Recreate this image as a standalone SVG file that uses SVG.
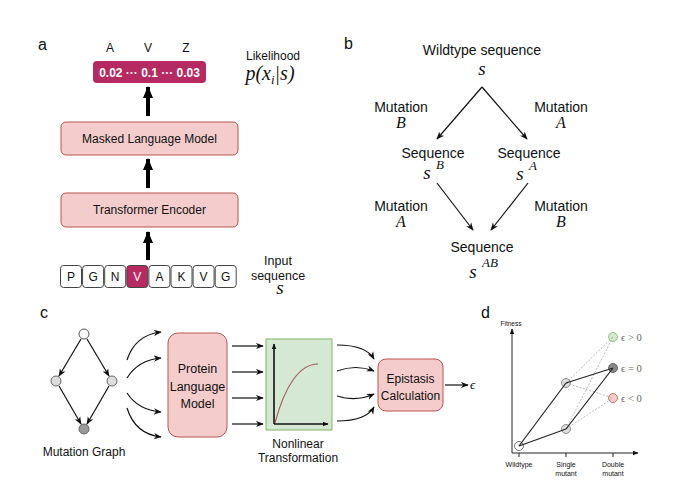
<svg xmlns="http://www.w3.org/2000/svg" width="680" height="485" viewBox="0 0 680 485">
<style>
text{font-family:"Liberation Sans",Arial,sans-serif;fill:#111}
.math{font-family:"Liberation Serif","Times New Roman",serif;font-style:italic}
.eps{font-family:"Liberation Serif","Times New Roman",serif;fill:#666}
.pink{fill:#f4cccc;stroke:#b85450;stroke-width:1}
.mag{fill:#b52a60}
.seq{fill:#fff;stroke:#444;stroke-width:1}
.thin{stroke:#111;stroke-width:1.2;fill:none}
.thick{stroke:#000;stroke-width:4;fill:none}
.dot{stroke:#aaa;stroke-width:0.8;stroke-dasharray:2 1.5;fill:none}
.solid{stroke:#222;stroke-width:1.2;fill:none}
.c{text-anchor:middle}
</style>
<defs>
<marker id="big" viewBox="0 0 12 10" refX="11" refY="5" markerWidth="12" markerHeight="10" markerUnits="userSpaceOnUse" orient="auto"><path d="M0,0 L12,5 L0,10 Z" fill="#000"/></marker>
<marker id="ah" viewBox="0 0 10 8" refX="9" refY="4" markerWidth="8" markerHeight="7" markerUnits="userSpaceOnUse" orient="auto"><path d="M0,0 L10,4 L0,8 L3,4 Z" fill="#111"/></marker>
<marker id="ahs" viewBox="0 0 10 8" refX="9" refY="4" markerWidth="6" markerHeight="5" markerUnits="userSpaceOnUse" orient="auto"><path d="M0,0 L10,4 L0,8 Z" fill="#111"/></marker>
</defs>

<!-- Panel a -->
<g id="panel-a">
<text x="38" y="50" font-size="16">a</text>
<text x="110" y="52" font-size="12" class="c">A</text>
<text x="148" y="52" font-size="12" class="c">V</text>
<text x="186" y="52" font-size="12" class="c">Z</text>
<g id="likelihood-box">
<rect x="93" y="61" width="113" height="22" rx="4" class="mag"/>
<text x="149.5" y="77" font-size="12" font-weight="bold" class="c" style="fill:#fff">0.02 ··· 0.1 ··· 0.03</text>
</g>
<text x="273" y="60" font-size="12" class="c">Likelihood</text>
<text x="270" y="80" font-size="20" class="c math">p(x<tspan font-size="13" dy="4">i</tspan><tspan dy="-4">|s)</tspan></text>
<g id="mlm">
<rect x="61" y="122" width="177" height="33" rx="5" class="pink"/>
<text x="149.5" y="143" font-size="12" class="c">Masked Language Model</text>
</g>
<g id="encoder">
<rect x="61" y="193" width="177" height="34" rx="5" class="pink"/>
<text x="149.5" y="214" font-size="12" class="c">Transformer Encoder</text>
</g>
<g id="sequence">
<rect x="60.5" y="265.5" width="21" height="22" rx="3" class="seq"/>
<rect x="82.6" y="265.5" width="21" height="22" rx="3" class="seq"/>
<rect x="104.7" y="265.5" width="21" height="22" rx="3" class="seq"/>
<rect x="126.8" y="265.5" width="21" height="22" rx="3" class="mag" stroke="#444" stroke-width="1"/>
<rect x="148.9" y="265.5" width="21" height="22" rx="3" class="seq"/>
<rect x="171" y="265.5" width="21" height="22" rx="3" class="seq"/>
<rect x="193.1" y="265.5" width="21" height="22" rx="3" class="seq"/>
<rect x="215.2" y="265.5" width="21" height="22" rx="3" class="seq"/>
<text y="281" font-size="12" class="c"><tspan x="71">P</tspan><tspan x="93.1">G</tspan><tspan x="115.2">N</tspan><tspan x="137.3" style="fill:#fff">V</tspan><tspan x="159.4">A</tspan><tspan x="181.5">K</tspan><tspan x="203.6">V</tspan><tspan x="225.7">G</tspan></text>
</g>
<text x="278" y="265" font-size="12.5" class="c">Input</text>
<text x="278" y="280" font-size="12.5" class="c">sequence</text>
<text x="280" y="294" font-size="19" class="c math">s</text>
</g>

<!-- Panel b -->
<g id="panel-b">
<text x="344" y="49" font-size="16">b</text>
<text x="482" y="55" font-size="14" class="c">Wildtype sequence</text>
<text x="482" y="75" font-size="19" class="c math">s</text>
<text x="401" y="112" font-size="14" class="c">Mutation</text>
<text x="401" y="128" font-size="16" class="c math">B</text>
<text x="561" y="112" font-size="14" class="c">Mutation</text>
<text x="561" y="128" font-size="16" class="c math">A</text>
<text x="433" y="158" font-size="14" class="c">Sequence</text>
<text x="427" y="179" font-size="19" class="c math">s</text>
<text x="440" y="169" font-size="13" class="c math">B</text>
<text x="529" y="158" font-size="14" class="c">Sequence</text>
<text x="520" y="180" font-size="19" class="c math">s</text>
<text x="533" y="170" font-size="13" class="c math">A</text>
<text x="401" y="211" font-size="14" class="c">Mutation</text>
<text x="401" y="227" font-size="16" class="c math">A</text>
<text x="561" y="211" font-size="14" class="c">Mutation</text>
<text x="561" y="227" font-size="16" class="c math">B</text>
<text x="482" y="252" font-size="14" class="c">Sequence</text>
<text x="473" y="278" font-size="19" class="c math">s</text>
<text x="490" y="267" font-size="13" class="c math">AB</text>
</g>

<!-- Panel c -->
<g id="panel-c">
<text x="40" y="318" font-size="16">c</text>
<g id="graph-nodes">
<circle cx="84" cy="334" r="5" fill="#fff" stroke="#555" stroke-width="1"/>
<circle cx="56" cy="381" r="5" fill="#ddd" stroke="#666" stroke-width="1"/>
<circle cx="112" cy="381" r="5" fill="#ddd" stroke="#666" stroke-width="1"/>
<circle cx="84" cy="429" r="5" fill="#999" stroke="#666" stroke-width="1"/>
</g>
<text x="84" y="456" font-size="12" class="c">Mutation Graph</text>
<g id="plm">
<rect x="168" y="333" width="59" height="104" rx="10" class="pink"/>
<text font-size="12.5" class="c"><tspan x="197.5" y="373">Protein</tspan><tspan x="197.5" y="391">Language</tspan><tspan x="197.5" y="408">Model</tspan></text>
</g>
<g id="nonlinear">
<rect x="266" y="339" width="66" height="91" fill="#d5e8d4" stroke="#82b366" stroke-width="1"/>
<line x1="274" y1="424" x2="274" y2="344" stroke="#111" stroke-width="1.6" marker-end="url(#ahs)"/>
<line x1="274" y1="424" x2="328" y2="424" stroke="#111" stroke-width="1.6" marker-end="url(#ahs)"/>
<path d="M275,423 C285,385 300,364 318,364" fill="none" stroke="#a0625e" stroke-width="1.2"/>
</g>
<text x="298" y="448" font-size="12" class="c">Nonlinear</text>
<text x="298" y="462" font-size="12" class="c">Transformation</text>
<g id="epistasis">
<rect x="378" y="359" width="65" height="52" rx="8" class="pink"/>
<text font-size="12" class="c"><tspan x="410.5" y="383">Epistasis</tspan><tspan x="410.5" y="400">Calculation</tspan></text>
</g>
<text x="470" y="389" font-size="13" class="math">ϵ</text>
</g>

<!-- Panel d -->
<g id="panel-d">
<text x="481" y="318" font-size="16">d</text>
<text x="511" y="326" font-size="6.5" class="c">Fitness</text>
<text x="519" y="467" font-size="7" class="c">Wildtype</text>
<text x="566" y="467" font-size="7" class="c">Single</text>
<text x="566" y="476" font-size="7" class="c">mutant</text>
<text x="613" y="467" font-size="7" class="c">Double</text>
<text x="613" y="476" font-size="7" class="c">mutant</text>
<text x="621" y="341" font-size="10.5" class="eps">ϵ &gt; 0</text>
<text x="621" y="372" font-size="10.5" class="eps">ϵ = 0</text>
<text x="621" y="402" font-size="10.5" class="eps">ϵ &lt; 0</text>
<g id="d-nodes">
<circle cx="519" cy="446" r="4.5" fill="#fff" stroke="#555" stroke-width="0.8"/>
<circle cx="566" cy="383" r="4.5" fill="#ddd" stroke="#777" stroke-width="0.8"/>
<circle cx="566" cy="429" r="4.5" fill="#ddd" stroke="#777" stroke-width="0.8"/>
<circle cx="613" cy="337" r="4.5" fill="#d5e8d4" stroke="#82b366" stroke-width="0.8"/>
<circle cx="613" cy="368" r="4.5" fill="#888" stroke="#555" stroke-width="0.8"/>
<circle cx="613" cy="398" r="4.5" fill="#f8cecc" stroke="#b85450" stroke-width="0.8"/>
</g>
</g>

<!-- Connectors -->
<g id="connectors">
<line x1="148" y1="116" x2="148" y2="87" class="thick" marker-end="url(#big)"/>
<line x1="148" y1="188" x2="148" y2="159" class="thick" marker-end="url(#big)"/>
<line x1="148" y1="260" x2="148" y2="232" class="thick" marker-end="url(#big)"/>

<line x1="482" y1="87" x2="437" y2="139" class="thin" marker-end="url(#ah)"/>
<line x1="482" y1="87" x2="527" y2="139" class="thin" marker-end="url(#ah)"/>
<line x1="437" y1="183" x2="473" y2="230" class="thin" marker-end="url(#ah)"/>
<line x1="528" y1="183" x2="491" y2="230" class="thin" marker-end="url(#ah)"/>

<line x1="81" y1="339" x2="59" y2="376" class="thin" marker-end="url(#ah)"/>
<line x1="87" y1="339" x2="109" y2="376" class="thin" marker-end="url(#ah)"/>
<line x1="59" y1="386" x2="81" y2="424" class="thin" marker-end="url(#ah)"/>
<line x1="109" y1="386" x2="87" y2="424" class="thin" marker-end="url(#ah)"/>

<path d="M127,360 Q135,335 161,332" class="thin" marker-end="url(#ah)"/>
<path d="M127,378 Q138,360 161,358" class="thin" marker-end="url(#ah)"/>
<path d="M127,393 Q138,410 161,412" class="thin" marker-end="url(#ah)"/>
<path d="M127,408 Q135,434 161,437" class="thin" marker-end="url(#ah)"/>

<line x1="232" y1="346" x2="263" y2="346" class="thin" marker-end="url(#ah)"/>
<line x1="232" y1="372" x2="263" y2="372" class="thin" marker-end="url(#ah)"/>
<line x1="232" y1="398" x2="263" y2="398" class="thin" marker-end="url(#ah)"/>
<line x1="232" y1="424" x2="263" y2="424" class="thin" marker-end="url(#ah)"/>

<path d="M337,345 Q366,345 374,359" class="thin" marker-end="url(#ah)"/>
<path d="M337,371 Q356,364 374,371" class="thin" marker-end="url(#ah)"/>
<path d="M337,396 Q356,402 374,394" class="thin" marker-end="url(#ah)"/>
<path d="M337,421 Q366,421 374,407" class="thin" marker-end="url(#ah)"/>

<line x1="445" y1="385" x2="468" y2="385" class="thin" marker-end="url(#ah)"/>

<line x1="512" y1="453" x2="512" y2="329" stroke="#222" stroke-width="1" marker-end="url(#ahs)"/>
<line x1="512" y1="453" x2="638" y2="453" stroke="#222" stroke-width="1" marker-end="url(#ahs)"/>
<line x1="519" y1="453" x2="519" y2="457" stroke="#222" stroke-width="1"/>
<line x1="566" y1="453" x2="566" y2="457" stroke="#222" stroke-width="1"/>
<line x1="613" y1="453" x2="613" y2="457" stroke="#222" stroke-width="1"/>
<line x1="566" y1="383" x2="613" y2="337" class="dot"/>
<line x1="566" y1="383" x2="613" y2="398" class="dot"/>
<line x1="566" y1="429" x2="613" y2="337" class="dot"/>
<line x1="566" y1="429" x2="613" y2="398" class="dot"/>
<line x1="519" y1="446" x2="566" y2="383" class="solid"/>
<line x1="519" y1="446" x2="566" y2="429" class="solid"/>
<line x1="566" y1="383" x2="613" y2="368" class="solid"/>
<line x1="566" y1="429" x2="613" y2="368" class="solid"/>
</g>
</svg>
